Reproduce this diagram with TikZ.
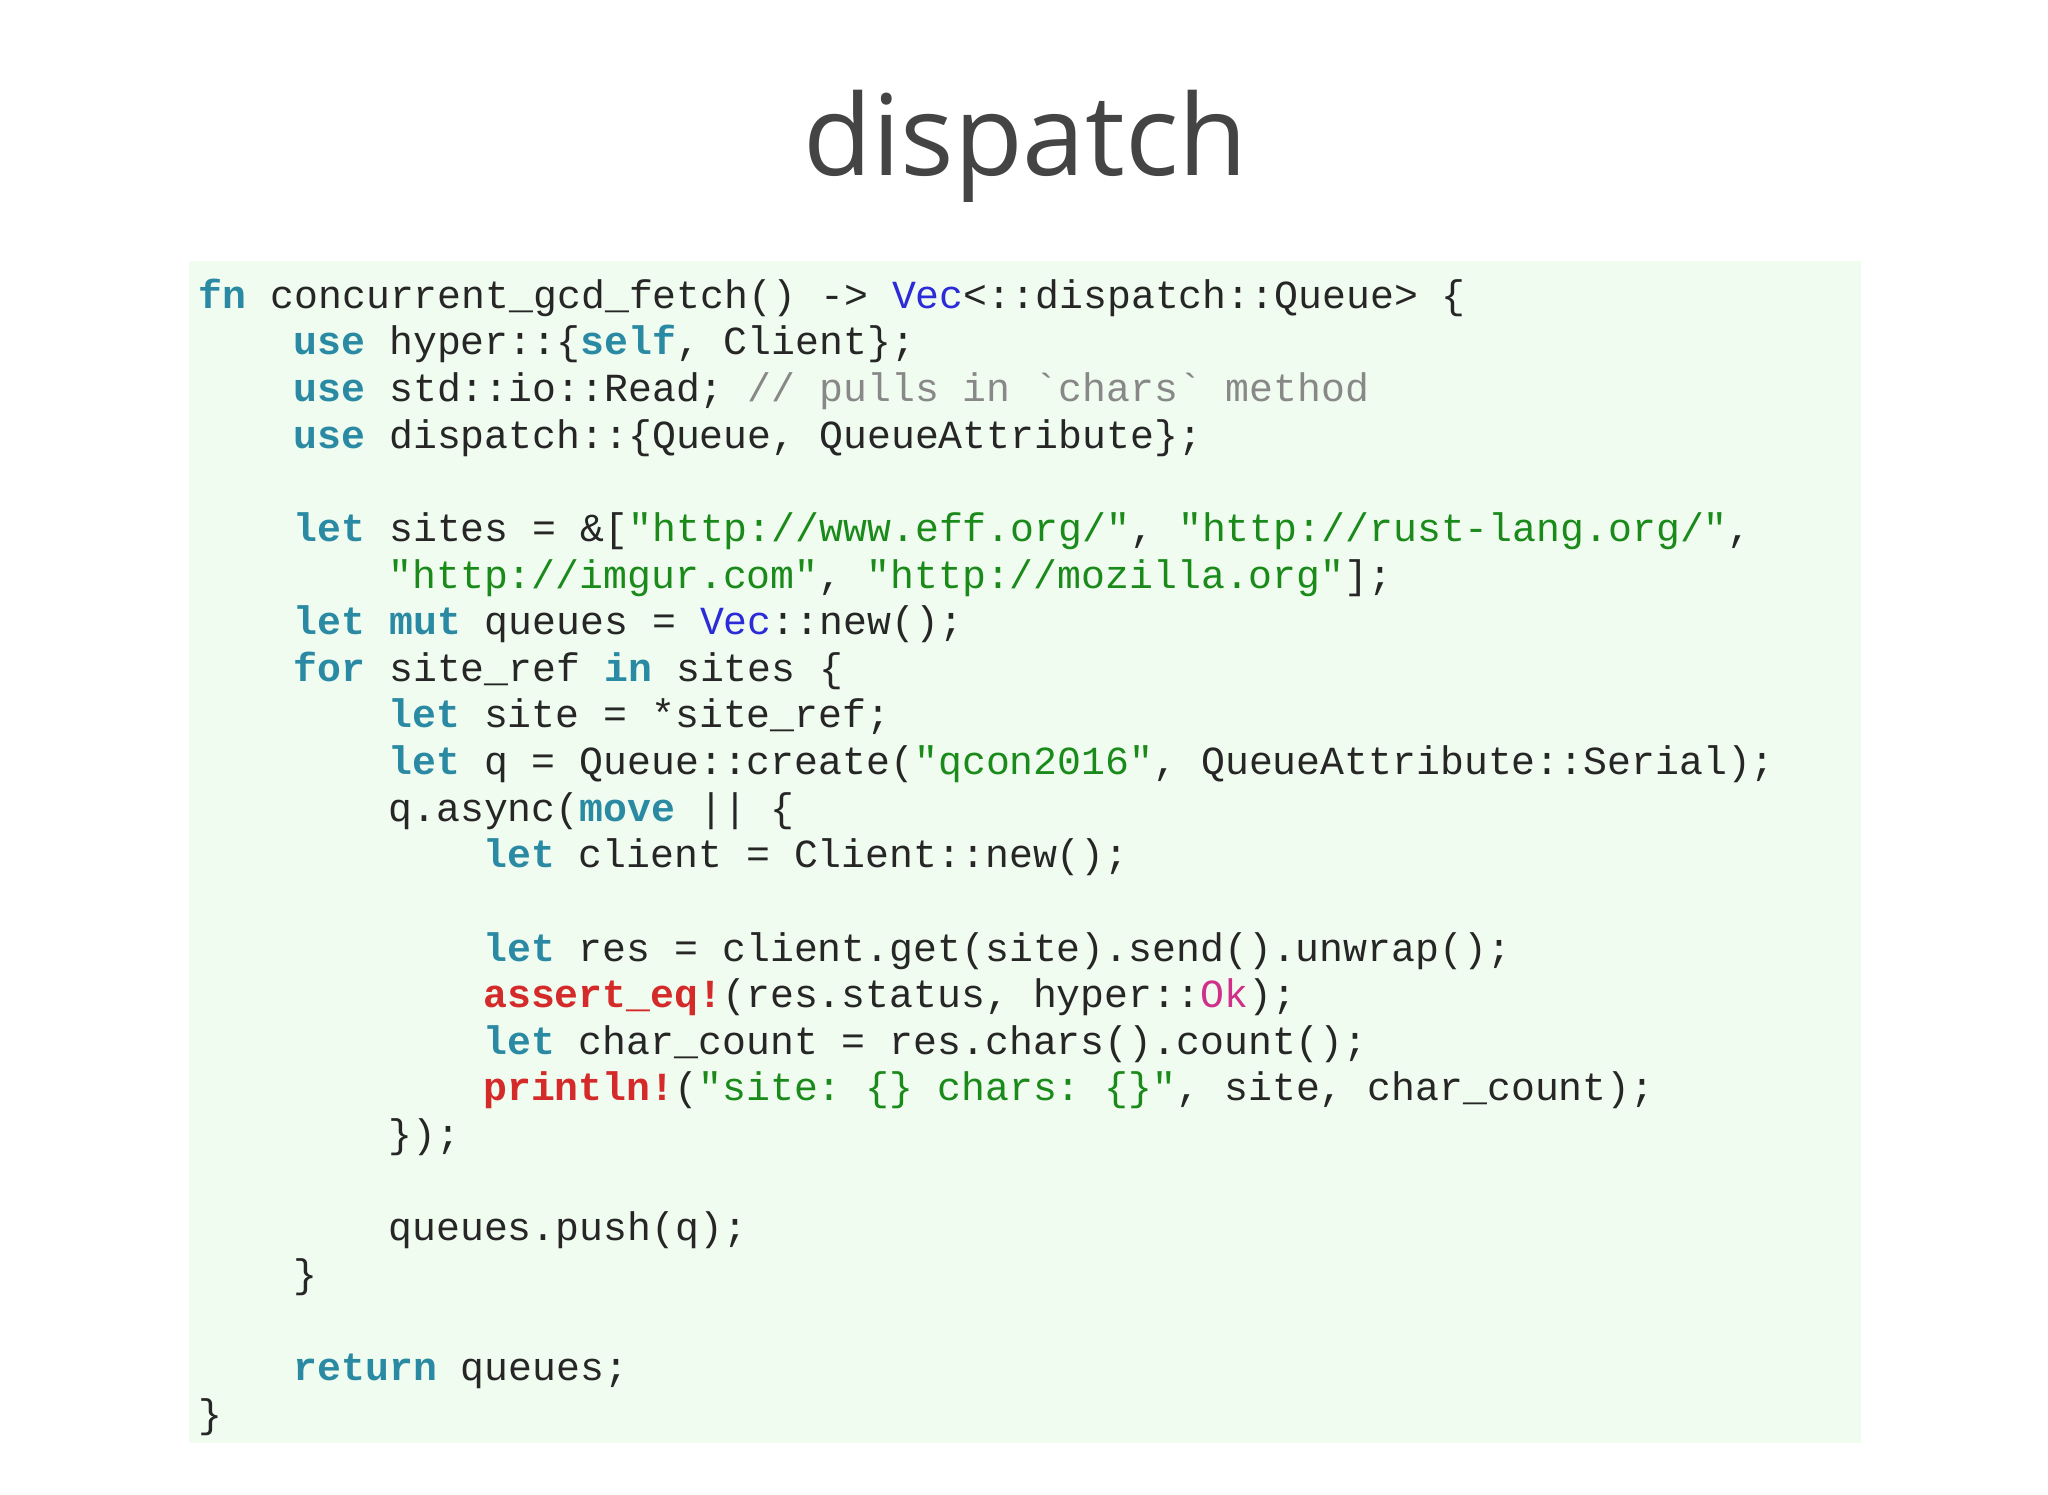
\documentclass[tikz,border=0pt]{standalone}
\usepackage{fontspec}
\setmainfont{Open Sans}
\setmonofont{Liberation Mono}
\definecolor{bgc}{HTML}{F1FCF0}
\definecolor{kwc}{HTML}{2B8AA3}
\definecolor{tyc}{HTML}{2B2BD8}
\definecolor{strc}{HTML}{1A8A1A}
\definecolor{macc}{HTML}{D42A2A}
\definecolor{cmc}{HTML}{888888}
\definecolor{okc}{HTML}{D0308A}
\definecolor{titc}{HTML}{444444}
\newcommand\Kw[1]{\textcolor{kwc}{\bfseries #1}}
\newcommand\Ty[1]{\textcolor{tyc}{#1}}
\newcommand\Str[1]{\textcolor{strc}{#1}}
\newcommand\Mac[1]{\textcolor{macc}{\bfseries #1}}
\newcommand\Cmt[1]{\textcolor{cmc}{#1}}
\newcommand\OkC[1]{\textcolor{okc}{#1}}
\begin{document}
\begin{tikzpicture}[x=1pt,y=-1pt,
  code/.style={anchor=base west,inner sep=0pt,font=\ttfamily\fontsize{30.5}{30.5}\selectfont,text=black!85}]
\useasboundingbox (0,0) rectangle (1568,1144);
\fill[white] (0,0) rectangle (1568,1144);
\fill[bgc] (145,200) rectangle (1425,1105);
\node[anchor=base,text=titc,font=\fontsize{86}{86}\selectfont\addfontfeature{Weight=300}] (title) at (785,134) {dispatch};
\def\cw{18.15}
\def\lh{35.7}
\def\ox{152}
\def\oy{236}
\node[code] (l1) at (\ox,\oy) {\Kw{fn} concurrent\_gcd\_fetch() -> \Ty{Vec}<::dispatch::Queue> \{};
\node[code] (l2) at (\ox+4*\cw,\oy+1*\lh) {\Kw{use} hyper::\{\Kw{self}, Client\};};
\node[code] (l3) at (\ox+4*\cw,\oy+2*\lh) {\Kw{use} std::io::Read; \Cmt{// pulls in `chars` method}};
\node[code] (l4) at (\ox+4*\cw,\oy+3*\lh) {\Kw{use} dispatch::\{Queue, QueueAttribute\};};
\node[code] (l6) at (\ox+4*\cw,\oy+5*\lh) {\Kw{let} sites = \&[\Str{"http://www.eff.org/"}, \Str{"http://rust-lang.org/"},};
\node[code] (l7) at (\ox+8*\cw,\oy+6*\lh) {\Str{"http://imgur.com"}, \Str{"http://mozilla.org"}];};
\node[code] (l8) at (\ox+4*\cw,\oy+7*\lh) {\Kw{let} \Kw{mut} queues = \Ty{Vec}::new();};
\node[code] (l9) at (\ox+4*\cw,\oy+8*\lh) {\Kw{for} site\_ref \Kw{in} sites \{};
\node[code] (l10) at (\ox+8*\cw,\oy+9*\lh) {\Kw{let} site = *site\_ref;};
\node[code] (l11) at (\ox+8*\cw,\oy+10*\lh) {\Kw{let} q = Queue::create(\Str{"qcon2016"}, QueueAttribute::Serial);};
\node[code] (l12) at (\ox+8*\cw,\oy+11*\lh) {q.async(\Kw{move} || \{};
\node[code] (l13) at (\ox+12*\cw,\oy+12*\lh) {\Kw{let} client = Client::new();};
\node[code] (l15) at (\ox+12*\cw,\oy+14*\lh) {\Kw{let} res = client.get(site).send().unwrap();};
\node[code] (l16) at (\ox+12*\cw,\oy+15*\lh) {\Mac{assert\_eq!}(res.status, hyper::\OkC{Ok});};
\node[code] (l17) at (\ox+12*\cw,\oy+16*\lh) {\Kw{let} char\_count = res.chars().count();};
\node[code] (l18) at (\ox+12*\cw,\oy+17*\lh) {\Mac{println!}(\Str{"site: \{\} chars: \{\}"}, site, char\_count);};
\node[code] (l19) at (\ox+8*\cw,\oy+18*\lh) {\});};
\node[code] (l21) at (\ox+8*\cw,\oy+20*\lh) {queues.push(q);};
\node[code] (l22) at (\ox+4*\cw,\oy+21*\lh) {\}};
\node[code] (l24) at (\ox+4*\cw,\oy+23*\lh) {\Kw{return} queues;};
\node[code] (l25) at (\ox,\oy+24*\lh) {\}};
\end{tikzpicture}
\end{document}
